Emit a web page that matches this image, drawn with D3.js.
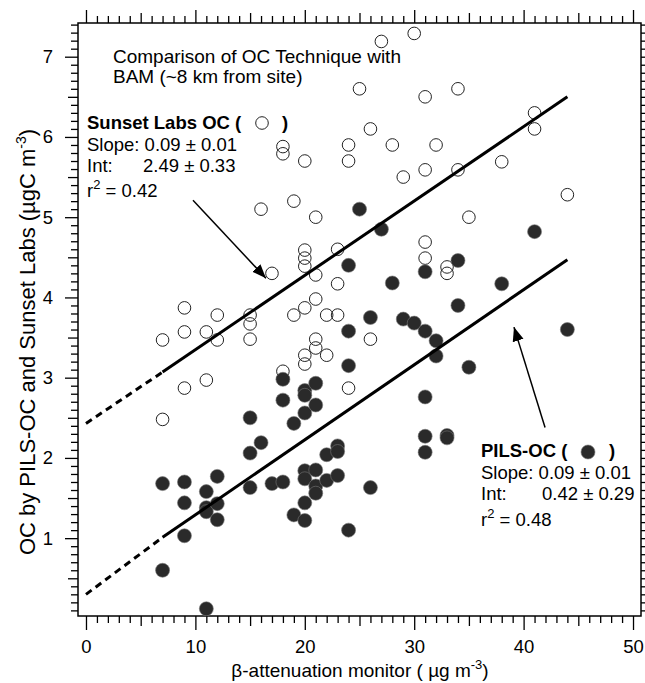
<!DOCTYPE html>
<html>
<head>
<meta charset="utf-8">
<script src="https://cdn.jsdelivr.net/npm/d3@7"></script>
<style>
  body { margin: 0; background: #fff; }
  svg { display: block; font-family: "Liberation Sans", Arial, sans-serif; }
</style>
</head>
<body>
<div id="chart"></div>
<script>
// BAM (x) vs Sunset Labs OC, open circles
const sunsetBam = [7,7,9,9,9,11,11,12,12,15,15,15,16,17,18,18,18,19,19,20,20,20,20,20,20,20,21,21,21,21,21,22,22,23,23,23,24,24,24,25,26,26,27,28,29,30,31,31,31,31,32,33,33,34,34,35,38,41,41,44];
const sunsetOC = [3.47,2.48,3.87,3.57,2.87,3.57,2.97,3.78,3.47,3.78,3.67,3.48,5.1,4.3,5.88,5.79,3.08,5.2,3.78,5.7,4.59,4.49,4.39,3.87,3.28,3.17,5.0,4.28,3.98,3.48,3.37,3.78,3.28,4.6,4.17,3.78,5.9,5.7,2.87,6.6,6.1,3.48,7.19,5.9,5.5,7.29,6.5,5.59,4.69,4.49,5.9,4.38,4.3,6.6,5.59,5.0,5.69,6.3,6.1,5.28];

// BAM (x) vs PILS-OC, filled circles
const pilsBam = [7,7,9,9,9,11,11,11,11,12,12,12,15,15,15,16,17,18,18,18,19,19,20,20,20,20,20,20,20,21,21,21,21,21,22,22,23,23,23,24,24,24,24,25,26,26,27,28,29,30,31,31,31,31,31,32,32,33,33,34,34,35,38,41,44];
const pilsOC = [1.68,0.6,1.70,1.44,1.03,1.58,1.38,1.33,0.12,1.77,1.43,1.23,2.5,2.06,1.63,2.19,1.68,2.98,2.72,1.70,2.43,1.29,2.84,2.78,2.56,1.84,1.74,1.44,1.22,2.93,2.66,1.85,1.65,1.56,2.04,1.72,2.15,2.08,1.78,4.4,3.58,3.15,1.10,5.1,3.75,1.63,4.85,4.18,3.73,3.68,4.32,3.58,2.76,2.27,2.07,3.46,3.27,2.28,2.25,4.46,3.9,3.13,4.17,4.82,3.6];

// fitted lines: dashed from 0 to 7, solid from 7 to 44
const fitX = [0, 7, 44];
const sunsetFitY = [2.43, 3.07, 6.50];
const pilsFitY = [0.30, 1.01, 4.47];

const xTicks = [0, 10, 20, 30, 40, 50];
const yTicks = [1, 2, 3, 4, 5, 6, 7];

const width = 645, height = 683;
const margin = {top: 23, right: 4, bottom: 67, left: 78};

const svg = d3.select("#chart").append("svg")
    .attr("width", width)
    .attr("height", height);

const x = d3.scaleLinear().domain([-0.73, 50.73]).range([margin.left, width - margin.right]);
const y = d3.scaleLinear().domain([0.03, 7.42]).range([height - margin.bottom, margin.top]);

const fontSize = 18.5;

// frame
svg.append("rect")
    .attr("x", margin.left)
    .attr("y", margin.top)
    .attr("width", width - margin.right - margin.left)
    .attr("height", height - margin.bottom - margin.top)
    .attr("fill", "none")
    .attr("stroke", "#000")
    .attr("stroke-width", 1.5);

// axes: minor / medium / major ticks on all four sides
function ticksFor(axisFn, scale, minor, medium, major, sizes, pad) {
    const g = svg.append("g");
    [[minor, sizes[0]], [medium, sizes[1]]].forEach(([vals, s]) => {
        g.append("g").call(axisFn(scale).tickValues(vals).tickSize(s).tickFormat(""));
    });
    g.append("g").call(axisFn(scale).tickValues(major).tickSize(sizes[2])
        .tickPadding(pad || 0)
        .tickFormat(pad ? d3.format("d") : ""));
    g.selectAll(".domain").remove();
    g.selectAll("line").attr("stroke", "#000").attr("stroke-width", 1.3);
    g.selectAll("text").attr("font-size", fontSize).attr("fill", "#000")
        .attr("font-family", "Liberation Sans, Arial, sans-serif");
    return g;
}

const xMinor = d3.range(0, 51).filter(d => d % 5 !== 0);
const xMed = [5, 15, 25, 35, 45];
const yMinor = d3.range(1, 75).map(d => d / 10).filter(d => Math.round(d * 10) % 5 !== 0);
const yMed = [0.5, 1.5, 2.5, 3.5, 4.5, 5.5, 6.5];

const bottomG = ticksFor(d3.axisBottom, x, xMinor, xMed, xTicks, [7, 10, 14], 10);
bottomG.attr("transform", `translate(0,${height - margin.bottom})`);
const topG = ticksFor(d3.axisTop, x, xMinor, xMed, xTicks, [7, 10, 13], 0);
topG.attr("transform", `translate(0,${margin.top})`);
const leftG = ticksFor(d3.axisLeft, y, yMinor, yMed, yTicks, [7, 10, 13], 12);
leftG.attr("transform", `translate(${margin.left},0)`);
const rightG = ticksFor(d3.axisRight, y, yMinor, yMed, yTicks, [7, 10, 13], 0);
rightG.attr("transform", `translate(${width - margin.right},0)`);

// axis titles
const xt = svg.append("text")
    .attr("x", 360)
    .attr("y", 677)
    .attr("text-anchor", "middle")
    .attr("font-size", 19);
xt.append("tspan").text("β-attenuation monitor ( µg m");
xt.append("tspan").attr("dy", -8).attr("font-size", 13).text("-3");
xt.append("tspan").attr("dy", 8).text(")");

const yt = svg.append("text")
    .attr("transform", "translate(35,342) rotate(-90)")
    .attr("text-anchor", "middle")
    .attr("font-size", 22);
yt.append("tspan").text("OC by PILS-OC and Sunset Labs (µgC m");
yt.append("tspan").attr("dy", -9).attr("font-size", 14).text("-3");
yt.append("tspan").attr("dy", 9).text(")");

// open circles
svg.append("g").selectAll("circle")
    .data(d3.range(sunsetBam.length))
    .enter()
    .append("circle")
    .attr("cx", i => x(sunsetBam[i]))
    .attr("cy", i => y(sunsetOC[i]))
    .attr("r", 6.3)
    .attr("fill", "none")
    .attr("stroke", "#222")
    .attr("stroke-width", 1);

// filled circles
svg.append("g").selectAll("circle")
    .data(d3.range(pilsBam.length))
    .enter()
    .append("circle")
    .attr("cx", i => x(pilsBam[i]))
    .attr("cy", i => y(pilsOC[i]))
    .attr("r", 7)
    .attr("fill", "#2a2a2a")
    .attr("stroke", "#777")
    .attr("stroke-width", 0.6);

// fit lines
[sunsetFitY, pilsFitY].forEach(fy => {
    svg.append("line")
        .attr("x1", x(fitX[0])).attr("y1", y(fy[0]))
        .attr("x2", x(fitX[1])).attr("y2", y(fy[1]))
        .attr("stroke", "#000").attr("stroke-width", 3)
        .attr("stroke-dasharray", "7,5");
    svg.append("line")
        .attr("x1", x(fitX[1])).attr("y1", y(fy[1]))
        .attr("x2", x(fitX[2])).attr("y2", y(fy[2]))
        .attr("stroke", "#000").attr("stroke-width", 3);
});

// arrows
svg.append("defs").append("marker")
    .attr("id", "head")
    .attr("viewBox", "0 0 10 10")
    .attr("refX", 10).attr("refY", 5)
    .attr("markerWidth", 14).attr("markerHeight", 14)
    .attr("markerUnits", "userSpaceOnUse")
    .attr("orient", "auto")
    .append("path")
    .attr("d", "M0,1 L10,5 L0,9 Z")
    .attr("fill", "#000");

const arrows = [
    [[9.78, 5.21], [16.45, 4.24]],
    [[41.96, 2.38], [39.12, 3.63]]
];
arrows.forEach(([a, b]) => {
    svg.append("line")
        .attr("x1", x(a[0])).attr("y1", y(a[1]))
        .attr("x2", x(b[0])).attr("y2", y(b[1]))
        .attr("stroke", "#000").attr("stroke-width", 1.5)
        .attr("marker-end", "url(#head)");
});

// annotation text
function label(tx, ty, str, opts = {}) {
    return svg.append("text")
        .attr("x", tx).attr("y", ty)
        .attr("font-size", opts.size || fontSize)
        .attr("font-weight", opts.bold ? "bold" : "normal")
        .text(str);
}

label(113, 63, "Comparison of OC Technique with", {size: 19});
label(113, 83, "BAM (~8 km from site)", {size: 19});

// Sunset block
label(87, 129, "Sunset Labs OC (", {bold: true});
label(282, 129, ")", {bold: true});
svg.append("circle").attr("cx", 262).attr("cy", 123).attr("r", 6.3)
    .attr("fill", "none").attr("stroke", "#222").attr("stroke-width", 1);
label(87, 151, "Slope: 0.09 ± 0.01");
label(87, 172, "Int:");
label(143, 172, "2.49 ± 0.33");
const r1 = label(87, 197, "r");
r1.append("tspan").attr("dy", -8).attr("font-size", 13).text("2");
r1.append("tspan").attr("dy", 8).text(" = 0.42");

// PILS block
label(481, 457, "PILS-OC (", {bold: true});
label(609, 457, ")", {bold: true});
svg.append("circle").attr("cx", 588).attr("cy", 452).attr("r", 7)
    .attr("fill", "#2a2a2a").attr("stroke", "#777").attr("stroke-width", 0.6);
label(481, 479, "Slope: 0.09 ± 0.01");
label(481, 500, "Int:");
label(542, 500, "0.42 ± 0.29");
const r2 = label(481, 526, "r");
r2.append("tspan").attr("dy", -8).attr("font-size", 13).text("2");
r2.append("tspan").attr("dy", 8).text(" = 0.48");
</script>
</body>
</html>
